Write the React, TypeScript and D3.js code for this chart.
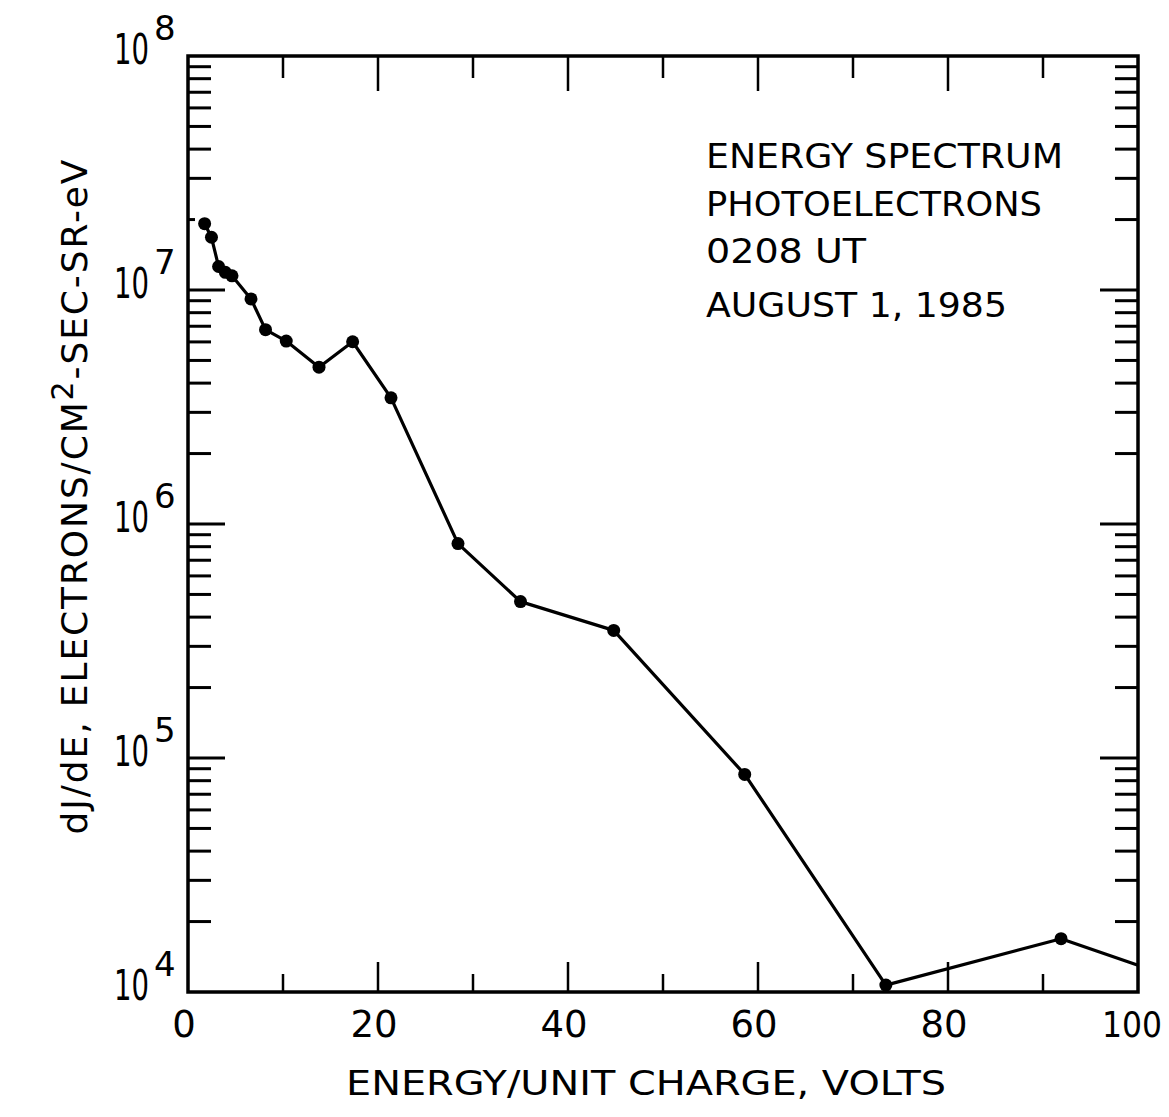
import React from 'react';
import * as d3 from 'd3';

// Energy (volts) and differential flux values
const energy = [1.75, 2.47, 3.22, 3.93, 4.63, 6.63, 8.16, 10.34, 13.79, 17.33, 21.37, 28.42, 35.0, 44.81, 58.6, 73.46, 91.9, 100];
const flux = [1.92e7, 1.68e7, 1.26e7, 1.19e7, 1.15e7, 9.16e6, 6.77e6, 6.05e6, 4.68e6, 6.01e6, 3.46e6, 8.25e5, 4.66e5, 3.51e5, 8.51e4, 1.07e4, 1.69e4, 1.3e4];
const markerShown = [true, true, true, true, true, true, true, true, true, true, true, true, true, true, true, true, true, false];

const xTickLabels = [0, 20, 40, 60, 80, 100];
const xTickValues = [10, 20, 30, 40, 50, 60, 70, 80, 90];
const yDecadeExponents = [4, 5, 6, 7, 8];
const annotationLines = ['ENERGY SPECTRUM', 'PHOTOELECTRONS', '0208 UT', 'AUGUST 1, 1985'];
const annotationLengths = [357, 336, 160, 301];
const annotationBaselines = [168, 216, 263, 317];

const FONT = '"DejaVu Sans", sans-serif';

export default function App() {
  const left = 188, right = 1138, top = 56, bottom = 992;
  const x = d3.scaleLinear().domain([0, 100]).range([left, right]);
  const y = d3.scaleLog().domain([1e4, 1e8]).range([bottom, top]);

  const yTicks = y.ticks().filter(v => v > 1e4 * 1.01 && v < 1e8 * 0.99);
  const mant = (v: number) => Math.round(v / Math.pow(10, Math.floor(Math.log10(v) + 1e-9)));

  const pts = energy.map((e, i) => [x(e), y(flux[i])] as [number, number]);
  const line = d3.line()(pts) || '';

  return (
    <svg width={1169} height={1117} style={{ position: 'absolute', left: 0, top: 0, background: '#fff' }}
      fontFamily={FONT}>
      <rect x={0} y={0} width={1169} height={1117} fill="#fff" />
      {/* frame */}
      <rect x={left} y={top} width={right - left} height={bottom - top} fill="none" stroke="#000" strokeWidth={3.5} />
      {/* y ticks left & right */}
      {yTicks.map((v, i) => {
        const m = mant(v);
        const major = m === 1;
        let lenL = major ? 37 : 23;
        if (m === 2 && Math.abs(v - 2e7) < 1) lenL = 7;
        const lenR = major ? 38 : 23;
        const yy = y(v);
        return (
          <g key={'yt' + i}>
            <line x1={left} x2={left + lenL} y1={yy} y2={yy} stroke="#000" strokeWidth={3} />
            <line x1={right} x2={right - lenR} y1={yy} y2={yy} stroke="#000" strokeWidth={3} />
          </g>
        );
      })}
      {/* x ticks top & bottom */}
      {xTickValues.map((v, i) => {
        const major = v % 20 === 0;
        const xx = x(v);
        return (
          <g key={'xt' + i}>
            <line x1={xx} x2={xx} y1={top} y2={top + (major ? 35 : 22)} stroke="#000" strokeWidth={2.5} />
            <line x1={xx} x2={xx} y1={bottom} y2={bottom - (major ? 30 : 18)} stroke="#000" strokeWidth={2.5} />
          </g>
        );
      })}
      {/* y tick labels */}
      {yDecadeExponents.map((p, i) => {
        const yy = y(Math.pow(10, p));
        return (
          <text key={'yl' + i} x={left - 74} y={yy + 8} fontSize={42}>
            <tspan textLength={35} lengthAdjust="spacingAndGlyphs">10</tspan>
            <tspan dx={5} dy={-24} fontSize={34}>{p}</tspan>
          </text>
        );
      })}
      {/* x tick labels */}
      {xTickLabels.map((v, i) => (
        <text key={'xl' + i} x={v === 100 ? x(v) - 6 : x(v) - 4} y={bottom + 45} fontSize={v === 100 ? 35 : 37} textAnchor="middle"
          textLength={v === 100 ? 60 : undefined} lengthAdjust="spacingAndGlyphs">{v}</text>
      ))}
      {/* data line */}
      <path d={line} fill="none" stroke="#000" strokeWidth={3.2} strokeLinejoin="round" />
      {pts.map((p, i) => markerShown[i] ? <circle key={'pt' + i} cx={p[0]} cy={p[1]} r={6.5} fill="#000" /> : null)}
      {/* annotation */}
      {annotationLines.map((t, i) => (
        <text key={'an' + i} x={706} y={annotationBaselines[i]} fontSize={34} textLength={annotationLengths[i]} lengthAdjust="spacingAndGlyphs">{t}</text>
      ))}
      {/* axis titles */}
      <text x={646} y={1095} fontSize={34} textAnchor="middle" textLength={600} lengthAdjust="spacingAndGlyphs">ENERGY/UNIT CHARGE, VOLTS</text>
      <text transform="translate(87,497) rotate(-90)" fontSize={36} textAnchor="middle" textLength={675} lengthAdjust="spacing">
        dJ/dE, ELECTRONS/CM<tspan dy={-14} fontSize={30}>2</tspan><tspan dy={14}>-SEC-SR-eV</tspan>
      </text>
    </svg>
  );
}
